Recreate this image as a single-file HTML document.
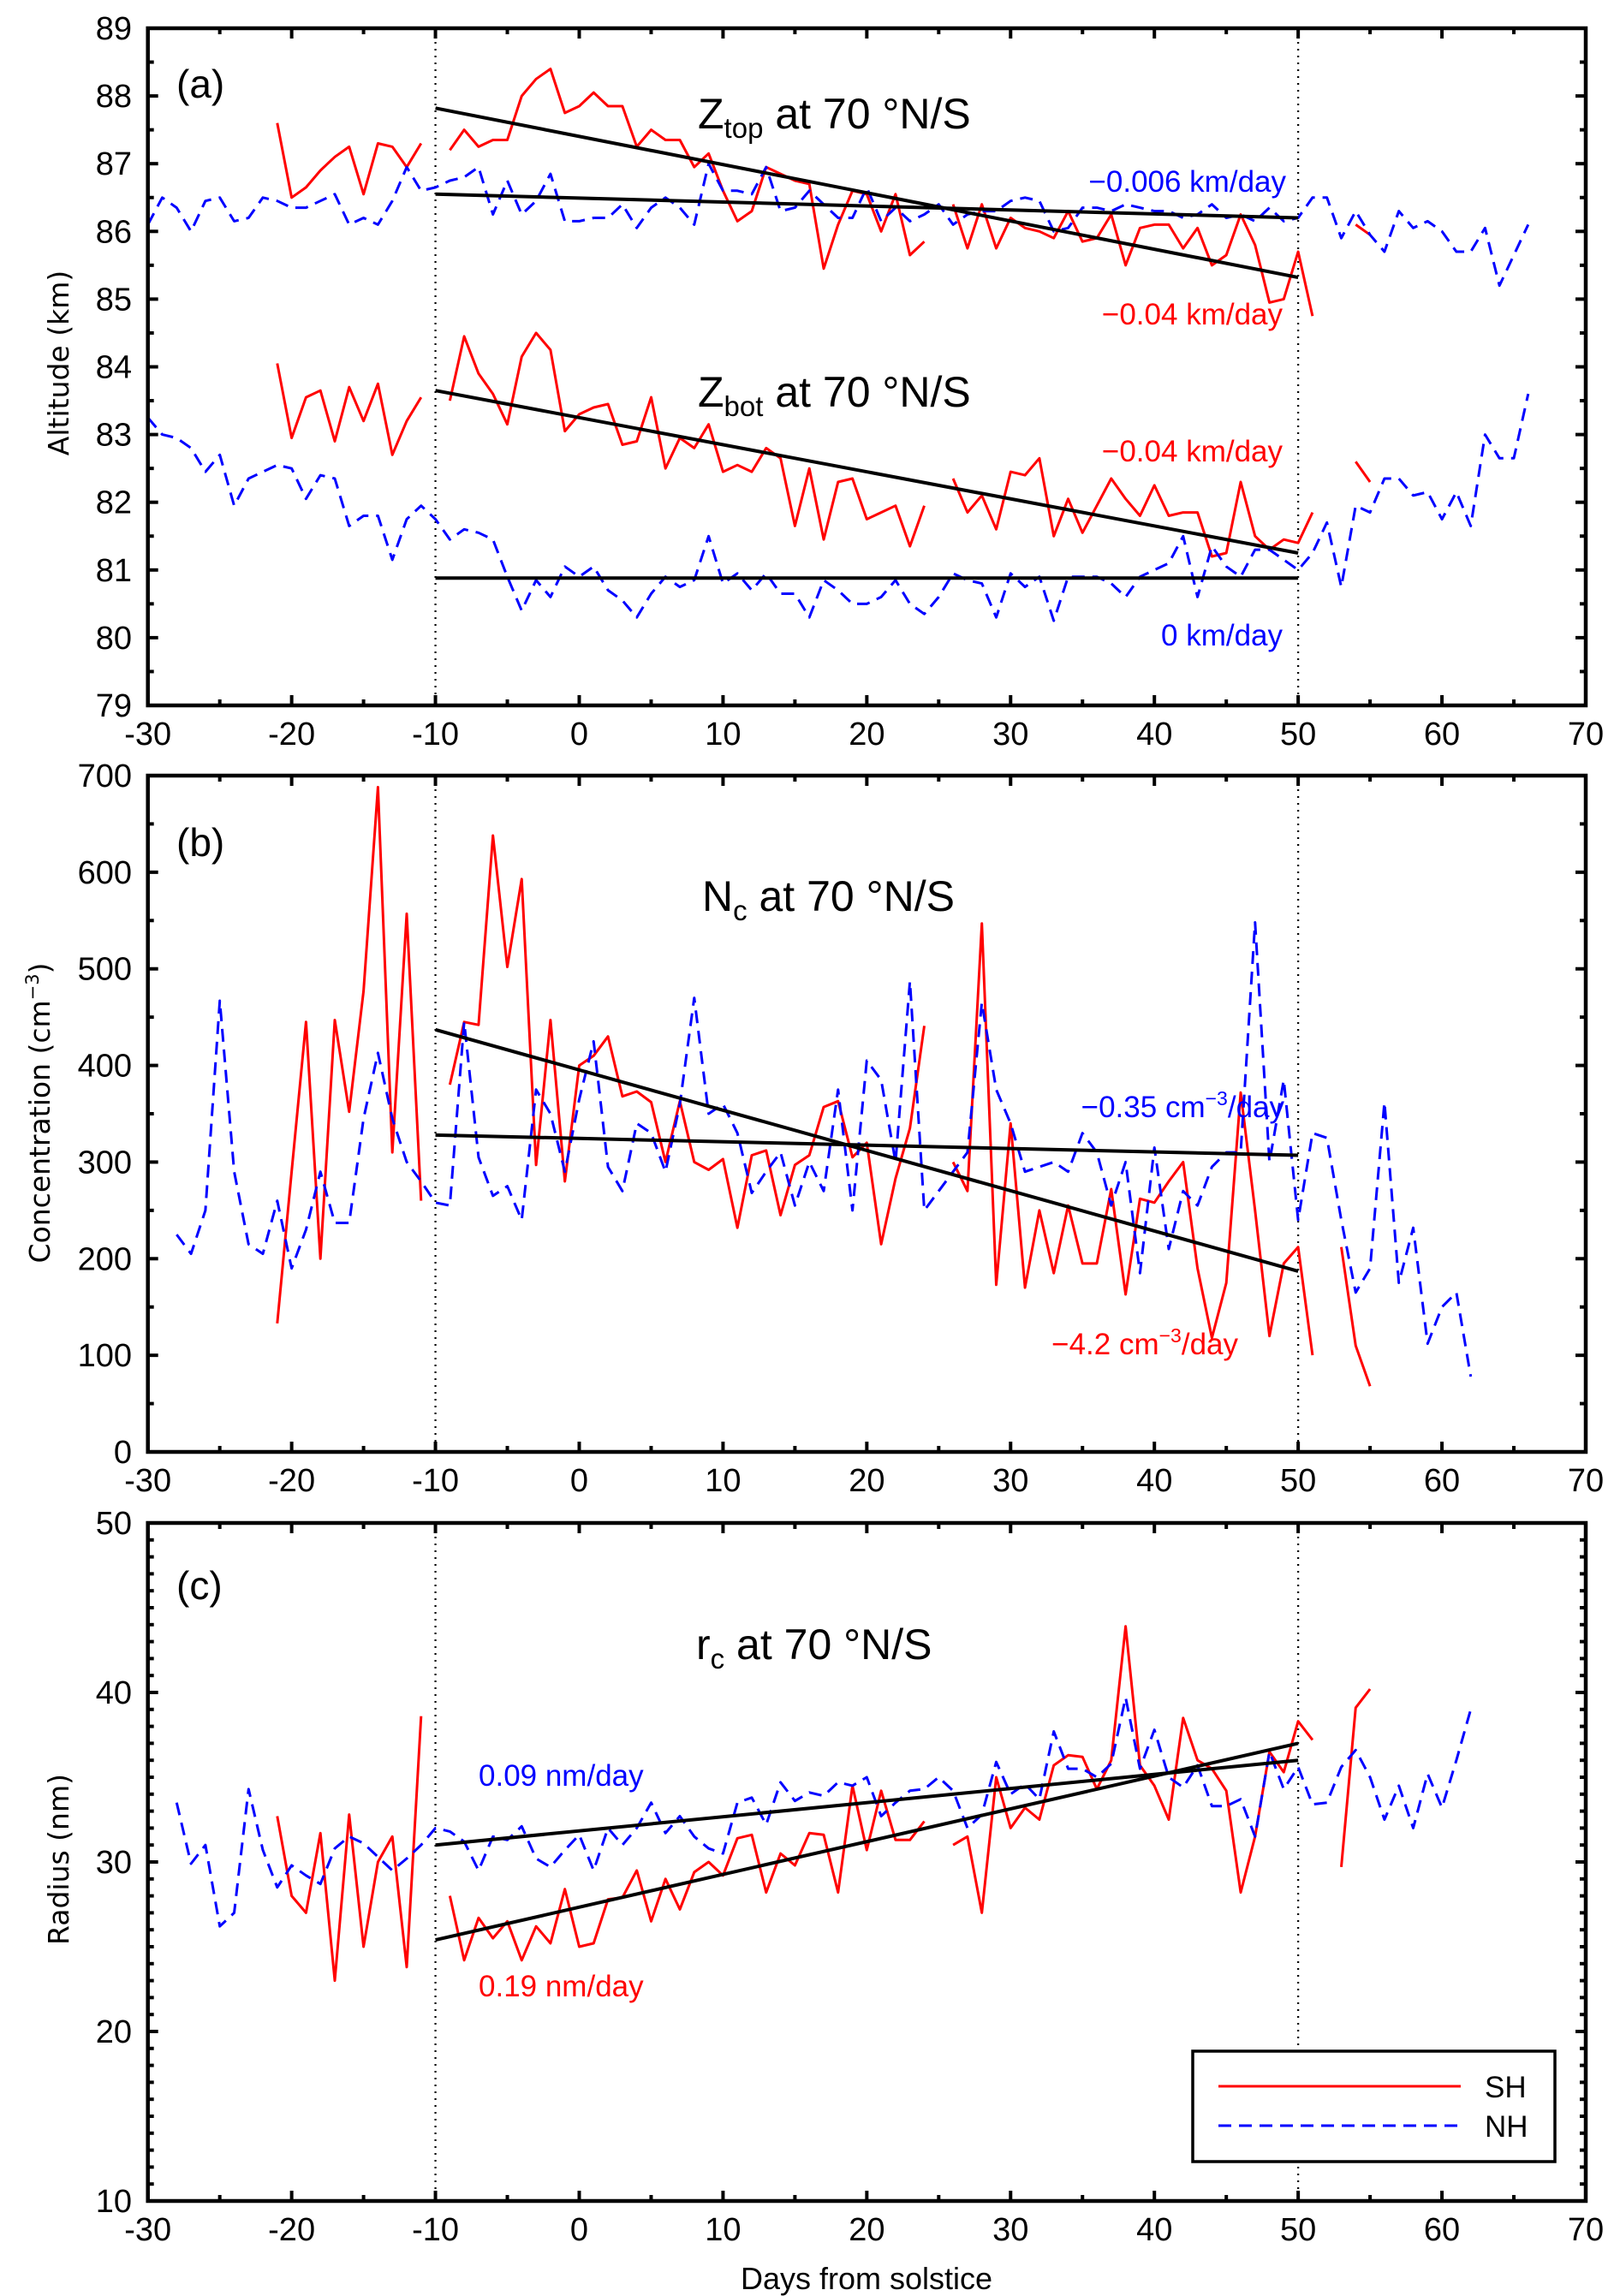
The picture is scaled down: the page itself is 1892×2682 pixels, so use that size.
<!DOCTYPE html>
<html><head><meta charset="utf-8">
<style>
html,body{margin:0;padding:0;background:#fff;}
svg{display:block;font-family:"Liberation Sans",Arial,sans-serif;}
</style></head>
<body>
<svg id="chart" width="1892" height="2682" viewBox="0 0 1892 2682" xmlns="http://www.w3.org/2000/svg"></svg>
<script>
// ---- shared x categories ----
const xTicks = [-30,-20,-10,0,10,20,30,40,50,60,70];

// ---- Panel (a) data: start day + daily values (null = gap) ----
const aTopSHStart = -21;
const aTopSH = [87.6,86.5,86.65,86.9,87.1,87.25,86.55,87.3,87.25,86.95,87.3,null,87.2,87.5,87.25,87.35,87.35,88.0,88.25,88.4,87.75,87.85,88.05,87.85,87.85,87.25,87.5,87.35,87.35,86.95,87.15,86.6,86.15,86.3,86.95,86.85,86.75,86.7,85.45,86.1,86.6,86.55,86.0,86.55,85.65,85.85,null,86.4,85.75,86.4,85.75,86.2,86.05,86.0,85.9,86.3,85.85,85.9,86.25,85.5,86.05,86.1,86.1,85.75,86.05,85.5,85.65,86.25,85.8,84.95,85.0,85.7,84.75,null,null,86.1,85.95];
const aTopNHStart = -30;
const aTopNH = [86.1,86.5,86.35,86.0,86.45,86.5,86.15,86.2,86.5,86.45,86.35,86.35,86.45,86.55,86.1,86.2,86.1,86.45,86.95,86.6,86.65,86.75,86.8,86.95,86.25,86.75,86.25,86.45,86.85,86.15,86.15,86.2,86.2,86.4,86.05,86.35,86.5,86.35,86.1,87.0,86.6,86.6,86.55,86.95,86.3,86.35,86.6,86.4,86.2,86.2,86.65,86.15,86.35,86.15,86.25,86.4,86.1,86.25,86.3,86.3,86.45,86.5,86.45,86.0,86.05,86.35,86.35,86.3,86.4,86.35,86.3,86.3,86.2,86.25,86.4,86.2,86.25,86.15,86.35,86.15,86.2,86.5,86.5,85.9,86.3,85.95,85.7,86.3,86.05,86.15,86.0,85.7,85.7,86.05,85.2,85.65,86.1];
const aBotSHStart = -21;
const aBotSH = [84.05,82.95,83.55,83.65,82.9,83.7,83.2,83.75,82.7,83.2,83.55,null,83.5,84.45,83.9,83.6,83.15,84.15,84.5,84.25,83.05,83.3,83.4,83.45,82.85,82.9,83.55,82.5,82.95,82.8,83.15,82.45,82.55,82.45,82.8,82.65,81.65,82.5,81.45,82.3,82.35,81.75,81.85,81.95,81.35,81.95,null,82.35,81.85,82.1,81.6,82.45,82.4,82.65,81.5,82.05,81.55,81.95,82.35,82.05,81.8,82.25,81.8,81.85,81.85,81.2,81.25,82.3,81.5,81.3,81.45,81.4,81.85,null,null,82.6,82.3];
const aBotNHStart = -30;
const aBotNH = [83.25,83.0,82.95,82.8,82.45,82.7,81.95,82.35,82.45,82.55,82.5,82.05,82.4,82.35,81.65,81.8,81.8,81.15,81.75,81.95,81.75,81.45,81.6,81.55,81.45,80.9,80.4,80.85,80.6,81.05,80.9,81.05,80.7,80.55,80.3,80.65,80.9,80.75,80.85,81.5,80.8,80.95,80.7,80.95,80.65,80.65,80.3,80.85,80.7,80.5,80.5,80.6,80.85,80.5,80.35,80.6,80.95,80.85,80.8,80.3,80.95,80.75,80.9,80.25,80.9,80.9,80.9,80.8,80.6,80.9,81.0,81.1,81.5,80.6,81.35,81.05,80.9,81.3,81.3,81.15,81.0,81.25,81.7,80.75,81.95,81.85,82.35,82.35,82.1,82.15,81.75,82.15,81.65,83.0,82.65,82.65,83.6];
const aFitDays = [-10,50];
const aFitTopSH = [87.82,85.32];
const aFitTopNH = [86.55,86.2];
const aFitBotSH = [83.65,81.25];
const aFitBotNH = [80.88,80.88];
const aYTicks = [79,80,81,82,83,84,85,86,87,88,89];

// ---- Panel (b) data ----
const bSHStart = -21;
const bSH = [133,290,445,200,447,352,477,688,310,557,260,null,380,445,442,638,502,593,297,447,280,400,410,430,368,373,362,300,363,300,292,303,232,307,312,245,297,307,357,363,305,320,215,283,335,441,null,300,270,547,173,340,170,250,185,255,195,195,272,163,262,258,280,300,190,118,175,372,250,120,195,212,100,null,212,110,68];
const bNHStart = -28;
const bNH = [225,205,250,467,290,215,205,260,190,230,290,237,237,345,413,345,300,280,258,255,445,305,265,275,240,375,350,290,365,425,295,270,340,330,290,360,470,350,360,330,268,290,310,255,300,270,375,250,405,385,300,487,250,270,290,310,465,375,340,290,295,300,290,330,310,255,300,185,315,210,270,255,295,310,310,548,300,385,240,330,325,240,165,190,362,175,232,112,150,165,78];
const bFitSH = [437,187];
const bFitNH = [328,307];
const bYTicks = [0,100,200,300,400,500,600,700];

// ---- Panel (c) data ----
const cSHStart = -21;
const cSH = [32.7,28.0,27.0,31.7,23.0,32.8,25.0,30.0,31.5,23.8,38.6,null,28.0,24.2,26.7,25.5,26.5,24.2,26.2,25.2,28.4,25.0,25.2,27.8,27.9,29.5,26.5,29.0,27.2,29.4,30.0,29.2,31.4,31.6,28.2,30.5,29.8,31.7,31.6,28.2,34.5,30.7,34.2,31.3,31.3,32.4,null,31.0,31.5,27.0,35.0,32.0,33.2,32.5,35.7,36.3,36.2,34.3,36.0,43.9,35.7,34.5,32.5,38.5,36.0,35.5,34.2,28.2,31.5,36.5,35.3,38.3,37.2,null,29.7,39.1,40.2];
const cNHStart = -28;
const cNH = [33.5,29.9,31.0,26.2,27.0,34.3,30.7,28.5,29.8,29.2,28.7,30.8,31.5,31.1,30.3,29.5,30.2,31.0,32.0,31.8,31.2,29.5,31.5,31.3,32.1,30.2,29.7,30.7,31.6,29.5,32.0,31.0,32.0,33.5,31.7,32.7,31.5,30.8,30.5,33.5,33.8,32.2,34.7,33.6,34.1,33.9,34.7,34.5,35.0,32.7,33.5,34.2,34.3,35.0,34.2,32.0,32.8,35.9,34.0,34.6,33.7,37.7,35.5,35.5,35.0,35.8,39.7,35.5,37.8,35.0,34.4,35.7,33.3,33.3,33.7,31.5,36.5,34.3,35.6,33.4,33.5,35.6,36.6,35.0,32.5,34.5,32.0,35.2,33.2,36.0,39.0];
const cFitSH = [25.4,37.0];
const cFitNH = [31.0,36.0];
const cYTicks = [10,20,30,40,50];

// ---- layout ----
const NS = "http://www.w3.org/2000/svg";
const svg = document.getElementById('chart');
const X0 = 172.7, X1 = 1852, DMIN = -30, DMAX = 70;
function xs(d){ return X0 + (d - DMIN) / (DMAX - DMIN) * (X1 - X0); }
function mk(tag, attrs, parent){
  const e = document.createElementNS(NS, tag);
  for (const k in attrs) e.setAttribute(k, attrs[k]);
  (parent || svg).appendChild(e);
  return e;
}
function txt(s, x, y, size, color, anchor, parent){
  const t = mk('text', {x:x, y:y, 'font-size':size, fill:color, 'text-anchor':anchor||'start'}, parent);
  t.textContent = s;
  return t;
}

function drawPanel(p){
  const g = mk('g', {});
  
  
  const ys = v => p.yb - (v - p.ymin) / (p.ymax - p.ymin) * (p.yb - p.yt);
  [-10, 50].forEach(d => {
    const l = mk('line', {x1:xs(d), x2:xs(d), y1:p.yt, y2:p.yb, stroke:'#000', 'stroke-width':2.2, 'stroke-dasharray':'2 6'}, g);
    
    
  });
  p.series.forEach(s => {
    let segs = [], cur = [];
    s.vals.forEach((v, i) => {
      if (v === null) { if (cur.length) segs.push(cur); cur = []; }
      else cur.push(xs(s.start + i).toFixed(1) + ',' + ys(v).toFixed(1));
    });
    if (cur.length) segs.push(cur);
    segs.forEach(sg => {
      const pl = mk('polyline', {points: sg.join(' '), fill:'none', stroke: s.color, 'stroke-width':3, 'stroke-linejoin':'round',
        'stroke-dasharray': s.dash ? '15 9' : 'none'}, g);
      
      
    });
  });
  p.fits.forEach(f => {
    const l = mk('line', {x1:xs(aFitDays[0]), y1:ys(f.v[0]), x2:xs(aFitDays[1]), y2:ys(f.v[1]), stroke:'#000', 'stroke-width':4}, g);
    
    
  });
  const tk = mk('g', {stroke:'#000', 'stroke-width':4}, g);
  
  
  for (let d = DMIN; d <= DMAX; d += 5) {
    const len = d % 10 === 0 ? 12 : 7;
    mk('line', {x1:xs(d), x2:xs(d), y1:p.yb, y2:p.yb - len}, tk);
    mk('line', {x1:xs(d), x2:xs(d), y1:p.yt, y2:p.yt + len}, tk);
  }
  const nMinor = Math.round((p.ymax - p.ymin) / p.minor);
  for (let i = 0; i <= nMinor; i++) {
    const v = p.ymin + i * p.minor;
    const major = Math.abs(((v - p.ymin) / p.major) - Math.round((v - p.ymin) / p.major)) < 1e-6;
    const len = major ? 12 : 7;
    mk('line', {x1:X0, x2:X0 + len, y1:ys(v), y2:ys(v)}, tk);
    mk('line', {x1:X1, x2:X1 - len, y1:ys(v), y2:ys(v)}, tk);
  }
  const fr = mk('rect', {x:X0, y:p.yt, width:X1 - X0, height:p.yb - p.yt, fill:'none', stroke:'#000', 'stroke-width':4.5}, g);
  
  
  xTicks.forEach(d => {
    const t = txt(String(d), xs(d), p.yb + 46, 38, '#000', 'middle', g);
    
    
  });
  p.yTicks.forEach(v => {
    const t = txt(String(v), 154, ys(v) + 13, 38, '#000', 'end', g);
    
    
  });
  return g;
}

drawPanel({name:'panel-a-altitude', yt:33, yb:824, ymin:79, ymax:89, major:1, minor:0.5, yTicks:aYTicks,
  series:[
    {name:'sh-ztop-line', start:aTopSHStart, vals:aTopSH, color:'#ff0000', dash:false},
    {name:'nh-ztop-line', start:aTopNHStart, vals:aTopNH, color:'#0000ff', dash:true},
    {name:'sh-zbot-line', start:aBotSHStart, vals:aBotSH, color:'#ff0000', dash:false},
    {name:'nh-zbot-line', start:aBotNHStart, vals:aBotNH, color:'#0000ff', dash:true}],
  fits:[{name:'fit-ztop-sh', v:aFitTopSH},{name:'fit-ztop-nh', v:aFitTopNH},{name:'fit-zbot-sh', v:aFitBotSH},{name:'fit-zbot-nh', v:aFitBotNH}]});
drawPanel({name:'panel-b-concentration', yt:906, yb:1696, ymin:0, ymax:700, major:100, minor:50, yTicks:bYTicks,
  series:[
    {name:'sh-nc-line', start:bSHStart, vals:bSH, color:'#ff0000', dash:false},
    {name:'nh-nc-line', start:bNHStart, vals:bNH, color:'#0000ff', dash:true}],
  fits:[{name:'fit-nc-sh', v:bFitSH},{name:'fit-nc-nh', v:bFitNH}]});
drawPanel({name:'panel-c-radius', yt:1779, yb:2571, ymin:10, ymax:50, major:10, minor:1, yTicks:cYTicks,
  series:[
    {name:'sh-rc-line', start:cSHStart, vals:cSH, color:'#ff0000', dash:false},
    {name:'nh-rc-line', start:cNHStart, vals:cNH, color:'#0000ff', dash:true}],
  fits:[{name:'fit-rc-sh', v:cFitSH},{name:'fit-rc-nh', v:cFitNH}]});
</script>
<svg width="1892" height="2682" viewBox="0 0 1892 2682" style="position:absolute;left:0;top:0;font-family:'Liberation Sans',Arial,sans-serif;">
  <text x="206" y="114" font-size="46">(a)</text>
  <text x="815" y="150" font-size="50">Z<tspan font-size="33" dy="11">top</tspan><tspan dy="-11"> at 70 °N/S</tspan></text>
  <text x="1502" y="224" font-size="35" fill="#0000ff" text-anchor="end">−0.006 km/day</text>
  <text x="1498" y="379" font-size="35" fill="#ff0000" text-anchor="end">−0.04 km/day</text>
  <text x="815" y="475" font-size="50">Z<tspan font-size="33" dy="11">bot</tspan><tspan dy="-11"> at 70 °N/S</tspan></text>
  <text x="1498" y="539" font-size="35" fill="#ff0000" text-anchor="end">−0.04 km/day</text>
  <text x="1498" y="754" font-size="35" fill="#0000ff" text-anchor="end">0 km/day</text>
  <text transform="translate(80,424) rotate(-90)" font-size="33" font-family="DejaVu Sans, sans-serif" text-anchor="middle">Altitude (km)</text>
  <text x="206" y="1000" font-size="46">(b)</text>
  <text x="820" y="1064" font-size="50">N<tspan font-size="33" dy="11">c</tspan><tspan dy="-11"> at 70 °N/S</tspan></text>
  <text x="1500" y="1305" font-size="35" fill="#0000ff" text-anchor="end">−0.35 cm<tspan font-size="23" dy="-14">−3</tspan><tspan dy="14">/day</tspan></text>
  <text x="1446" y="1582" font-size="35" fill="#ff0000" text-anchor="end">−4.2 cm<tspan font-size="23" dy="-14">−3</tspan><tspan dy="14">/day</tspan></text>
  <text transform="translate(58,1300) rotate(-90)" font-size="33" font-family="DejaVu Sans, sans-serif" text-anchor="middle">Concentration (cm<tspan font-size="21" dy="-13">−3</tspan><tspan dy="13">)</tspan></text>
  <text x="206" y="1868" font-size="46">(c)</text>
  <text x="813" y="1938" font-size="50">r<tspan font-size="33" dy="11">c</tspan><tspan dy="-11"> at 70 °N/S</tspan></text>
  <text x="559" y="2086" font-size="35" fill="#0000ff">0.09 nm/day</text>
  <text x="559" y="2332" font-size="35" fill="#ff0000">0.19 nm/day</text>
  <text transform="translate(80,2172) rotate(-90)" font-size="33" font-family="DejaVu Sans, sans-serif" text-anchor="middle">Radius (nm)</text>
  <g>
    <rect x="1393" y="2396" width="423" height="129" fill="#fff" stroke="#000" stroke-width="3.5"/>
    <line x1="1423" y1="2437" x2="1706" y2="2437" stroke="#ff0000" stroke-width="3"/>
    <text x="1734" y="2450" font-size="35">SH</text>
    <line x1="1423" y1="2483" x2="1706" y2="2483" stroke="#0000ff" stroke-width="3" stroke-dasharray="15 9"/>
    <text x="1734" y="2496" font-size="35">NH</text>
  </g>
  <text x="1012" y="2674" font-size="36" text-anchor="middle">Days from solstice</text>
</svg>
</body></html>
